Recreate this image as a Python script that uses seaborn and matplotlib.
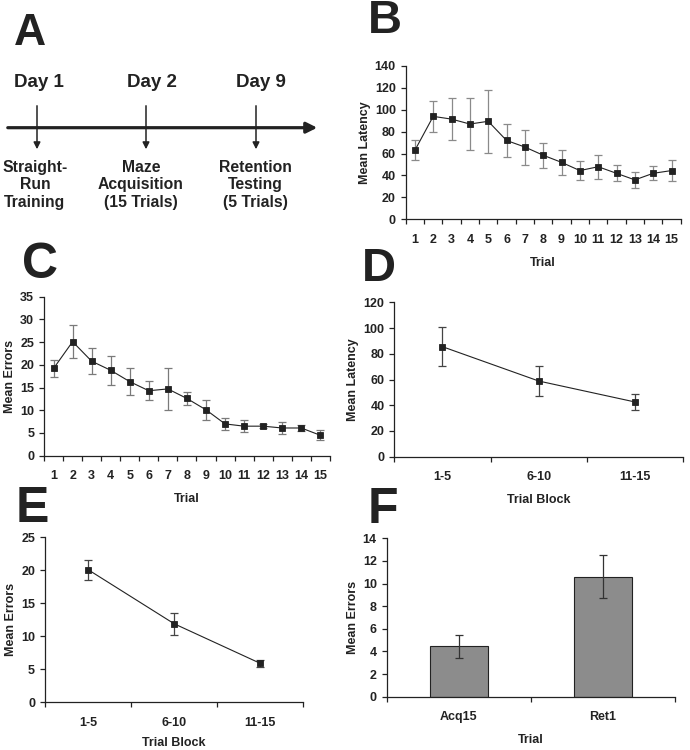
import numpy as np
import seaborn as sns
import matplotlib.pyplot as plt

# trial-by-trial data (panels B, C)
trials = [str(i) for i in range(1, 16)]
latency_mean = [63, 94, 91.5, 87, 89.5, 72, 66, 58.5, 52, 44.5, 48, 42, 36, 42, 44.5]
latency_sem = [9, 14, 19.5, 24, 28.5, 15, 16, 11.5, 11.7, 8.4, 10.8, 7.3, 7.1, 6.4, 9.7]
errors_mean = [19.2, 25.1, 20.8, 18.8, 16.3, 14.3, 14.7, 12.6, 10.1, 7.0, 6.5, 6.5, 6.1, 6.1, 4.5]
errors_sem = [1.8, 3.6, 2.9, 3.2, 2.9, 2.1, 4.7, 1.5, 2.2, 1.3, 1.3, 0.45, 1.4, 0.7, 1.1]

# trial blocks (panels D, E)
blocks = ['1-5', '6-10', '11-15']
block_latency = [85.5, 58.8, 42.5]
block_latency_sem = [15, 11.6, 6.1]
block_errors = [20.1, 11.9, 5.9]
block_errors_sem = [1.5, 1.7, 0.55]

# acquisition vs retention (panel F)
ret_labels = ['Acq15', 'Ret1']
ret_errors = [4.45, 10.6]
ret_errors_sem = [1.0, 1.9]

# timeline (panel A)
days = ['Day 1', 'Day 2', 'Day 9']
phases = ['Straight-\nRun\nTraining', 'Maze\nAcquisition\n(15 Trials)', 'Retention\nTesting\n(5 Trials)']

sns.set_theme(style='ticks')
plt.rcParams['font.family'] = ['Liberation Sans', 'DejaVu Sans']
plt.rcParams['font.weight'] = 'bold'
plt.rcParams['axes.labelweight'] = 'bold'
TXT = '#222222'

fig = plt.figure(figsize=(6.9, 7.5), dpi=100)

# overlay in pixel coords for timeline + panel letters
ov = fig.add_axes([0, 0, 1, 1], zorder=-1)
ov.set_xlim(0, 690)
ov.set_ylim(750, 0)
ov.axis('off')

ov.annotate('', xy=(320, 127.7), xytext=(5, 127.7),
            arrowprops=dict(arrowstyle='-|>', lw=2.3, color=TXT, mutation_scale=16))
day_x = [37, 146, 256]
day_cx = [39, 152, 261]
phase_cx = [35, 141, 255]
for x, cx, px, d, p in zip(day_x, day_cx, phase_cx, days, phases):
    ov.annotate('', xy=(x, 152), xytext=(x, 103),
                arrowprops=dict(arrowstyle='-|>', lw=1.1, color=TXT, mutation_scale=10))
    ov.text(cx, 87, d, ha='center', va='baseline', fontsize=13.5, fontweight='bold', color=TXT)
    ov.text(px, 160, p, ha='center', va='top', fontsize=11.3, fontweight='bold',
            color=TXT, linespacing=1.2)

letters = [('A', 14, 45, 32), ('B', 368, 33, 34), ('C', 22, 278, 36),
           ('D', 362, 281, 34), ('E', 16, 522, 36), ('F', 368, 523, 36)]
for s, x, y, fs in letters:
    ov.text(x, y, s, ha='left', va='baseline', fontsize=fs, fontweight='bold', color=TXT)


def style(ax, cats, ymax, ystep, ylabel, xlabel, xpad=8):
    n = len(cats)
    ax.set_xlim(-0.5, n - 0.5)
    ax.set_xticks(np.arange(n + 1) - 0.5)
    ax.set_xticklabels([])
    ax.set_xticks(np.arange(n), minor=True)
    ax.set_xticklabels(cats, minor=True)
    ax.tick_params(axis='x', which='major', direction='out', length=3.6, width=0.9, color=TXT)
    ax.tick_params(axis='x', which='minor', length=0, pad=10.5, labelsize=9, labelcolor=TXT)
    ax.set_ylim(0, ymax)
    ax.set_yticks(np.arange(0, ymax + ystep / 2, ystep))
    ax.tick_params(axis='y', direction='out', length=3.6, width=0.9, color=TXT,
                   pad=3.5, labelsize=9, labelcolor=TXT)
    ax.set_ylabel(ylabel, fontsize=9, color=TXT, labelpad=3)
    ax.set_xlabel(xlabel, fontsize=9, color=TXT, labelpad=xpad)
    sns.despine(ax=ax)
    for sp in ['left', 'bottom']:
        ax.spines[sp].set_color(TXT)
        ax.spines[sp].set_linewidth(0.9)
    ax.grid(False)


def line_panel(rect, cats, mean, sem, ymax, ystep, ylabel, xlabel, ecolor, xpad=8):
    ax = fig.add_axes(rect)
    ax.errorbar(np.arange(len(cats)), mean, yerr=sem, fmt='none', ecolor=ecolor,
                elinewidth=0.9, capsize=2.8, capthick=0.9, zorder=1)
    sns.pointplot(x=cats, y=mean, color=TXT, markers='s', markersize=3.8,
                  linewidth=0.8, errorbar=None, ax=ax, zorder=3)
    style(ax, cats, ymax, ystep, ylabel, xlabel, xpad)
    return ax


line_panel([0.588, 0.7076, 0.3985, 0.2044], trials, latency_mean, latency_sem,
           140, 20, 'Mean Latency', 'Trial', '#8a8a8a')
line_panel([0.0638, 0.3924, 0.4142, 0.212], trials, errors_mean, errors_sem,
           35, 5, 'Mean Errors', 'Trial', '#7a7a7a')
line_panel([0.5714, 0.3911, 0.4189, 0.2058], blocks, block_latency, block_latency_sem,
           120, 20, 'Mean Latency', 'Trial Block', '#444444')
line_panel([0.0652, 0.0636, 0.3744, 0.22], blocks, block_errors, block_errors_sem,
           25, 5, 'Mean Errors', 'Trial Block', '#444444', xpad=5.5)

axF = fig.add_axes([0.5604, 0.0711, 0.4179, 0.2112])
sns.barplot(x=ret_labels, y=ret_errors, color='#8c8c8c', saturation=1, width=0.4,
            edgecolor=TXT, linewidth=0.8, ax=axF)
axF.errorbar(np.arange(len(ret_labels)), ret_errors, yerr=ret_errors_sem, fmt='none',
             ecolor='#333333', elinewidth=0.9, capsize=2.8, capthick=0.9)
style(axF, ret_labels, 14, 2, 'Mean Errors', 'Trial')

fig.savefig('out.png', dpi=100)
